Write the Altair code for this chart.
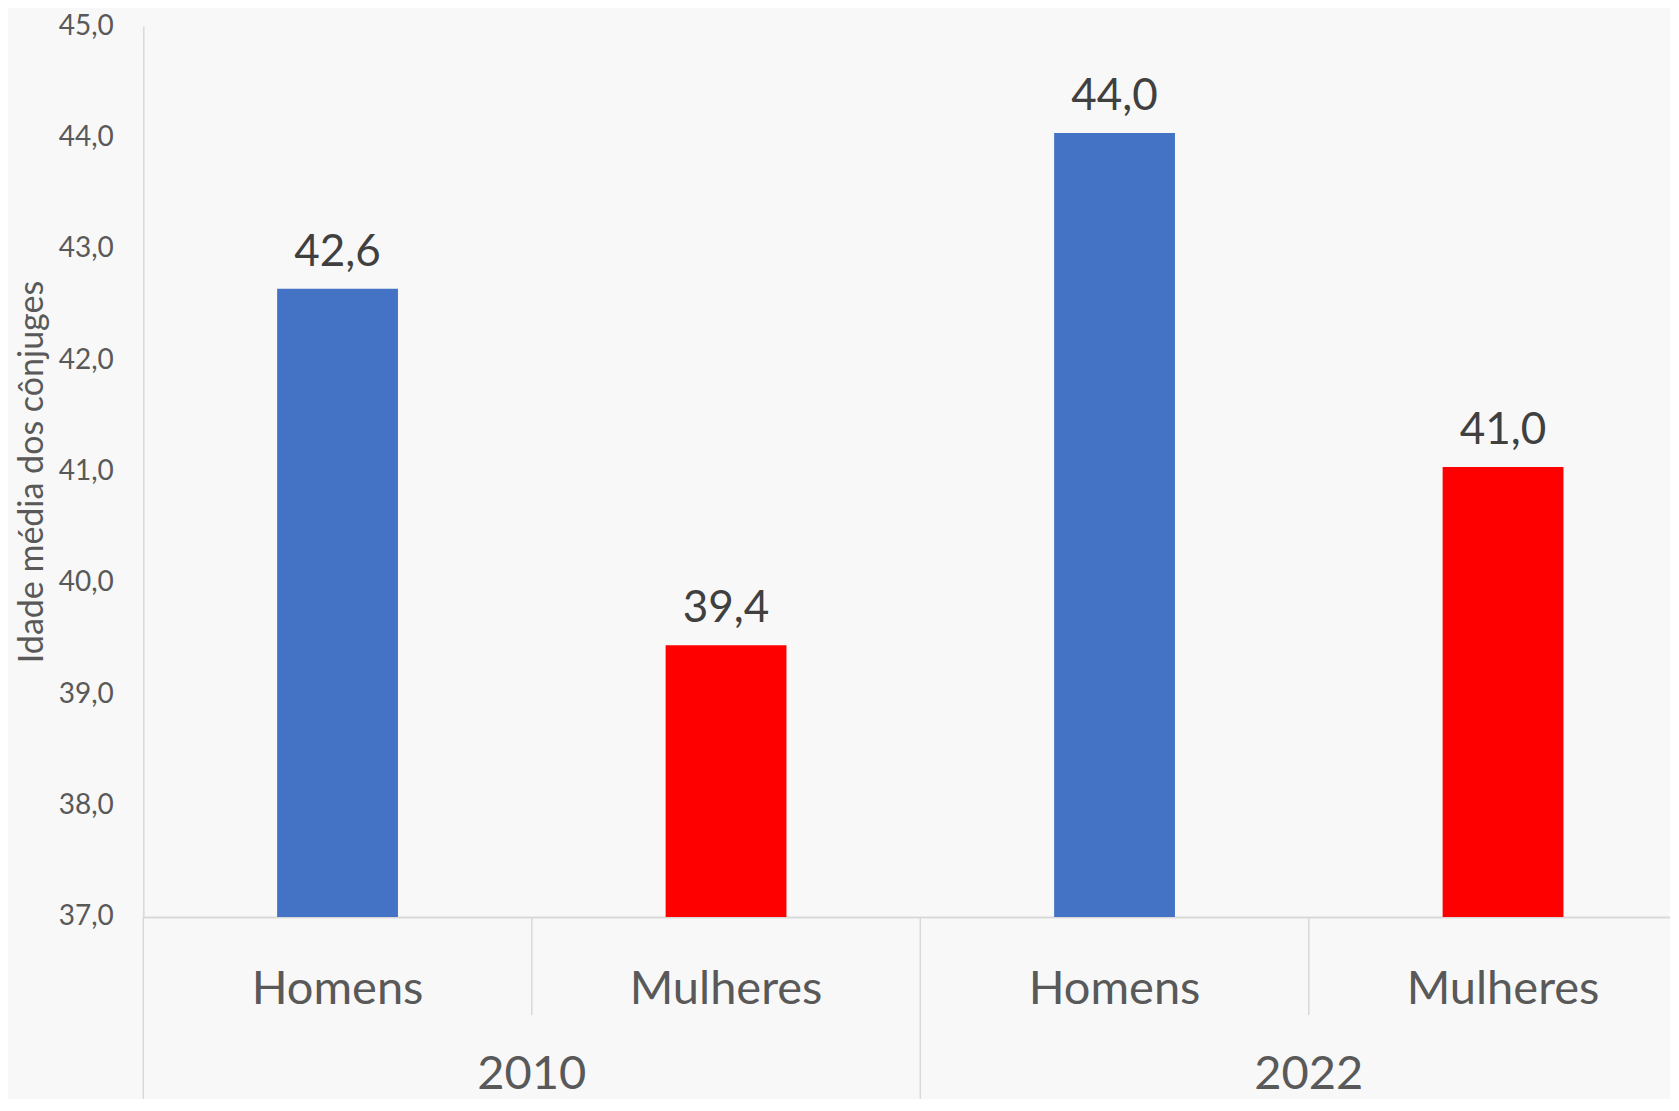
import altair as alt
import pandas as pd

# ---- data ----
years = ["2010", "2010", "2022", "2022"]
sexes = ["Homens", "Mulheres", "Homens", "Mulheres"]
values = [42.64, 39.44, 44.04, 41.04]
y_ticks = [37, 38, 39, 40, 41, 42, 43, 44, 45]
y_title = "Idade média dos cônjuges"
colors = {"Homens": "#4472C4", "Mulheres": "#FF0000"}

keys = [f"{y}|{s}" for y, s in zip(years, sexes)]
df = pd.DataFrame({"key": keys, "year": years, "sex": sexes, "value": values})

PAD_L, PAD_T = 135.3, 18
W, H = 1527, 891          # visible plot area (page is 1679 wide with 8px margins)
X_RANGE = 1554            # full band range; the last part is cut at the page edge
SVG_H = 1091
GRAY = "#D9D9D9"
TXT = "#595959"
FONT = "Lato"

x_axis = alt.Axis(
    title=None, ticks=False, tickSize=0, labelAngle=0,
    labelExpr="split(datum.label, '|')[1]",
    labelFont=FONT, labelFontSize=47, labelColor=TXT,
    labelBaseline="alphabetic", labelPadding=87, labelLimit=0,
    domainColor=GRAY, domainWidth=2, grid=False,
)
x_scale = alt.Scale(domain=keys, range=[0, X_RANGE], paddingInner=0, paddingOuter=0)


def X(band=0.5):
    return alt.X("key:N", scale=x_scale, axis=x_axis, bandPosition=band)


y_enc = alt.Y(
    "value:Q",
    scale=alt.Scale(domain=[y_ticks[0], y_ticks[-1]], zero=False, nice=False),
    axis=alt.Axis(
        title=y_title, values=y_ticks, grid=False, ticks=False, tickSize=0,
        labelExpr="replace(format(datum.value, '.1f'), '.', ',')",
        labelFont=FONT, labelFontSize=28, labelColor=TXT, labelPadding=30,
        domainColor=GRAY, domainWidth=1.5,
        titleFont=FONT, titleFontSize=34, titleColor=TXT, titleFontWeight="normal",
        titleX=-100.5, titleBaseline="alphabetic",
    ),
)

base = alt.Chart(df)

bars = base.mark_bar(width=alt.RelativeBandSize(0.311)).encode(
    x=X(),
    y=y_enc,
    y2=alt.datum(y_ticks[0]),
    color=alt.Color("sex:N", scale=alt.Scale(domain=list(colors), range=list(colors.values())), legend=None),
)

labels = base.transform_calculate(
    lbl="replace(format(datum.value, '.1f'), '.', ',')"
).mark_text(font=FONT, fontSize=44, color="#404040", baseline="alphabetic", dy=-23).encode(
    x=X(), y=alt.Y("value:Q"), text="lbl:N"
)

inner_sep = base.transform_filter("datum.sex == 'Mulheres'").mark_rule(
    color=GRAY, strokeWidth=1.5
).encode(x=X(0), y=alt.value(H), y2=alt.value(H + 98))

group_sep = base.transform_filter("datum.sex == 'Homens'").mark_rule(
    color=GRAY, strokeWidth=1.5
).encode(x=X(0), y=alt.value(H), y2=alt.value(H + 220))

year_lbl = base.transform_filter("datum.sex == 'Mulheres'").mark_text(
    font=FONT, fontSize=47, color=TXT, baseline="alphabetic"
).encode(x=X(0), y=alt.value(1063), text="year:N")

chart = alt.layer(bars, labels, inner_sep, group_sep, year_lbl).properties(
    width=W, height=H,
    autosize=alt.AutoSizeParams(type="none"),
    padding={"left": PAD_L, "top": PAD_T, "right": 0, "bottom": SVG_H - PAD_T - H},
    background="#F8F8F8",
).configure_view(stroke=None)

chart.save("out.html", embed_options={"renderer": "svg", "actions": False})
